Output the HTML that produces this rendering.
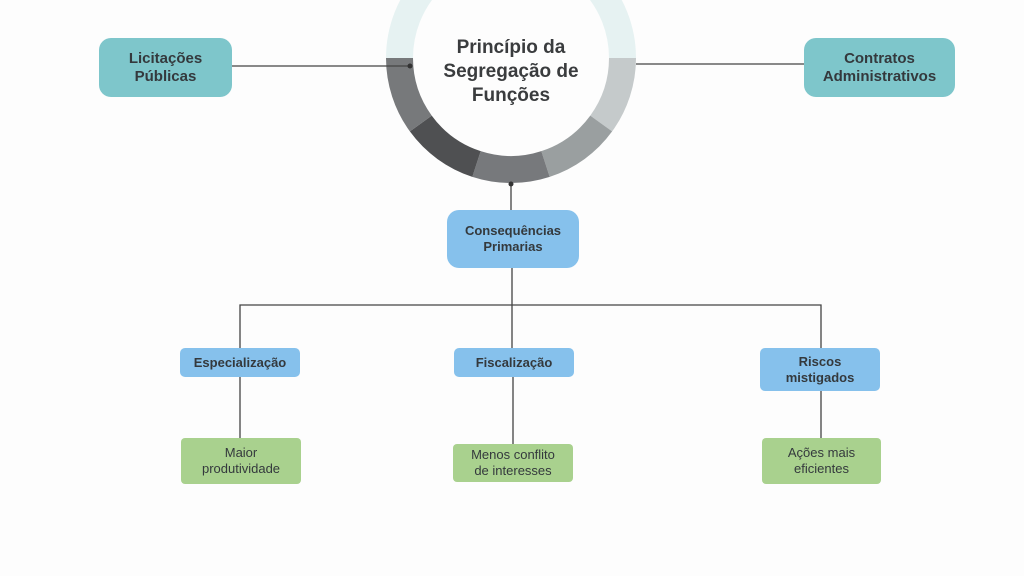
<!DOCTYPE html>
<html><head><meta charset="utf-8"><style>
body{margin:0;background:#fdfdfd;}
.w{position:relative;width:1024px;height:576px;overflow:hidden;font-family:"Liberation Sans",sans-serif;color:#34393d;}
.b{position:absolute;display:flex;align-items:center;justify-content:center;text-align:center;box-sizing:border-box;}
.t{background:#7ec6cb;border-radius:12px;font-weight:bold;font-size:15px;line-height:18px;}
.bl{background:#86c1ec;border-radius:5px;font-size:13px;line-height:16px;font-weight:bold;}
.g{background:#a9d18e;border-radius:4px;font-size:13px;line-height:16px;}
</style></head><body><div class="w">
<svg width="1024" height="576" style="position:absolute;left:0;top:0">
<g fill="none" stroke-width="27">
<path d="M399.5 58 A111.5 111.5 0 0 1 622.5 58" stroke="#e6f2f2"/>
<path d="M622.5 58 A111.5 111.5 0 0 1 601.2 123.5" stroke="#c5cacb"/>
<path d="M601.2 123.5 A111.5 111.5 0 0 1 545.5 164" stroke="#9a9fa0"/>
<path d="M545.5 164 A111.5 111.5 0 0 1 476.5 164" stroke="#77797c"/>
<path d="M476.5 164 A111.5 111.5 0 0 1 420.8 123.5" stroke="#4f5052"/>
<path d="M420.8 123.5 A111.5 111.5 0 0 1 399.5 58" stroke="#77797b"/>
</g>
<g stroke="#444" stroke-width="1.3" fill="none">
<line x1="232" y1="66" x2="410" y2="66"/>
<line x1="636" y1="64" x2="804" y2="64"/>
<line x1="511" y1="183" x2="511" y2="210"/>
<line x1="512" y1="268" x2="512" y2="348"/>
<polyline points="240,348 240,305 821,305 821,348"/>
<line x1="240" y1="377" x2="240" y2="438"/>
<line x1="513" y1="377" x2="513" y2="444"/>
<line x1="821" y1="391" x2="821" y2="438"/>
</g>
<circle cx="410" cy="66" r="2.5" fill="#333"/>
<circle cx="511" cy="184" r="2.5" fill="#333"/>
</svg>
<div class="b" style="left:411px;top:36px;width:200px;font-weight:bold;font-size:19px;line-height:24px;color:#3a3c3e">Princípio da<br>Segregação de<br>Funções</div>
<div class="b t" style="left:99px;top:38px;width:133px;height:59px">Licitações<br>Públicas</div>
<div class="b t" style="left:804px;top:38px;width:151px;height:59px">Contratos<br>Administrativos</div>
<div class="b bl" style="left:447px;top:210px;width:132px;height:58px;border-radius:12px">Consequências<br>Primarias</div>
<div class="b bl" style="left:180px;top:348px;width:120px;height:29px">Especialização</div>
<div class="b bl" style="left:454px;top:348px;width:120px;height:29px">Fiscalização</div>
<div class="b bl" style="left:760px;top:348px;width:120px;height:43px">Riscos<br>mistigados</div>
<div class="b g" style="left:181px;top:438px;width:120px;height:46px">Maior<br>produtividade</div>
<div class="b g" style="left:453px;top:444px;width:120px;height:38px">Menos conflito<br>de interesses</div>
<div class="b g" style="left:762px;top:438px;width:119px;height:46px">Ações mais<br>eficientes</div>
</div></body></html>
